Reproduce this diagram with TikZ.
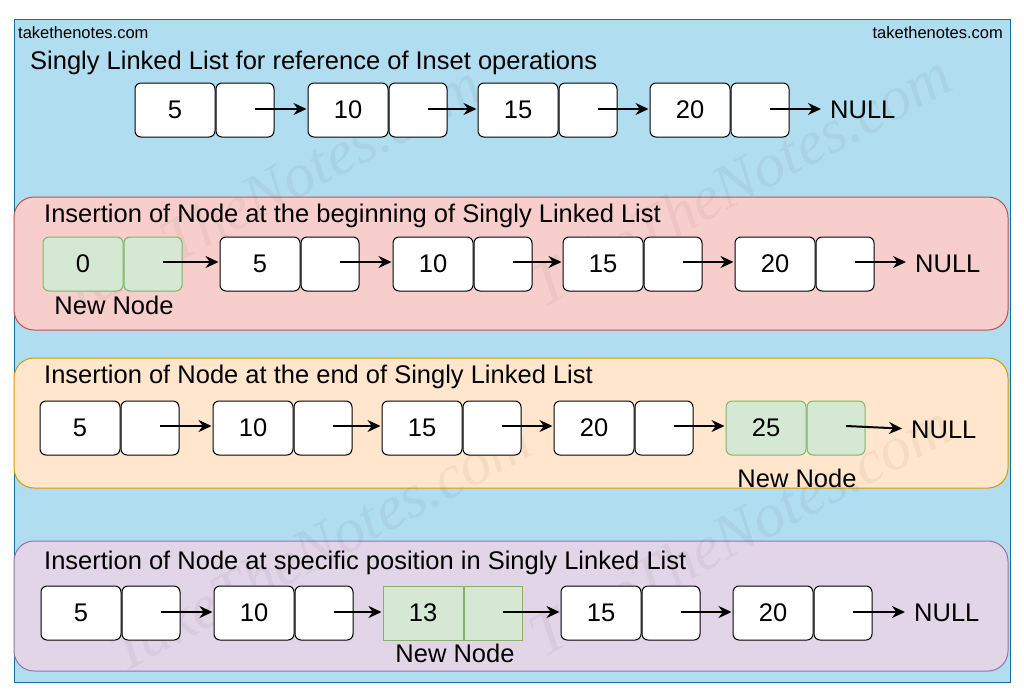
\documentclass[tikz,border=0pt]{standalone}
\usepackage{fontspec}
\setmainfont{Liberation Sans}
\newfontfamily\wmfont{Liberation Serif}
\usetikzlibrary{arrows.meta}
\definecolor{bgblue}{HTML}{B1DDF0}
\definecolor{bgblueb}{HTML}{10739E}
\definecolor{redf}{HTML}{F8CECC}\definecolor{redb}{HTML}{B85450}
\definecolor{orf}{HTML}{FFE6CC}\definecolor{orb}{HTML}{D79B00}
\definecolor{puf}{HTML}{E1D5E7}\definecolor{pub}{HTML}{9673A6}
\definecolor{grf}{HTML}{D5E8D4}\definecolor{grb}{HTML}{82B366}
\newcommand\LLnode[5]{%
  \node[val,#5] (#1v) at (#2+40,#3) {#4};
  \node[ptr,#5] (#1p) at (#2+110,#3) {};}
\begin{document}
\begin{tikzpicture}[x=1pt,y=-1pt,
  box/.style={draw=black,line width=1pt,rounded corners=6pt,fill=white,inner sep=0pt,minimum height=54pt,font=\fontsize{25.5}{28}\selectfont},
  val/.style={box,minimum width=80pt},
  ptr/.style={box,minimum width=58pt},
  new/.style={fill=grf,draw=grb},
  sq/.style={rounded corners=0pt},
  arr/.style={-{Stealth[length=13pt,width=12pt]},line width=2pt,shorten >=1pt},
  narr/.style={arr,shorten >=9pt},
  panel/.style={rounded corners=20pt,line width=1pt},
  ttl/.style={anchor=west,font=\fontsize{25.5}{28}\selectfont,inner sep=0pt},
  lbl/.style={font=\fontsize{25.5}{28}\selectfont,inner sep=0pt},
  wm/.style={font=\wmfont\itshape\fontsize{62}{70}\selectfont,text=black,opacity=0.045,rotate=28}]
\useasboundingbox (0,0) rectangle (1024,696);
\fill[white] (0,0) rectangle (1024,696);
\draw[fill=bgblue,draw=bgblueb,line width=1pt] (14,19) rectangle (1010,682);
\node[anchor=west,font=\fontsize{16.5}{18}\selectfont,inner sep=0pt] (wl) at (18,33) {takethenotes.com};
\node[anchor=east,font=\fontsize{16.5}{18}\selectfont,inner sep=0pt] (wr) at (1003,33) {takethenotes.com};
% panels
\draw[panel,fill=redf,draw=redb] (14,197) rectangle (1008,330);
\draw[panel,fill=orf,draw=orb] (14,358) rectangle (1008,488);
\draw[panel,fill=puf,draw=pub] (14,541) rectangle (1008,671);
% watermarks
\node[wm] (w1) at (270,190) {TakeTheNotes.com};
\node[wm] (w2) at (740,180) {TakeTheNotes.com};
\node[wm] (w3) at (320,545) {TakeTheNotes.com};
\node[wm] (w4) at (740,530) {TakeTheNotes.com};
% titles
\node[ttl] (t1) at (30,63) {Singly Linked List for reference of Inset operations};
\node[ttl] (t2) at (44,216) {Insertion of Node at the beginning of Singly Linked List};
\node[ttl] (t3) at (44,377) {Insertion of Node at the end of Singly Linked List};
\node[ttl] (t4) at (44,563) {Insertion of Node at specific position in Singly Linked List};
% row 1
\LLnode{a1}{135}{110}{5}{}
\LLnode{a2}{308}{110}{10}{}
\LLnode{a3}{478}{110}{15}{}
\LLnode{a4}{650}{110}{20}{}
\node[lbl,anchor=west] (an) at (830,110) {NULL};
\draw[arr] ([xshift=10pt,yshift=1pt]a1p.center) -- ([yshift=1pt]a2v.west);
\draw[arr] ([xshift=10pt,yshift=1pt]a2p.center) -- ([yshift=1pt]a3v.west);
\draw[arr] ([xshift=10pt,yshift=1pt]a3p.center) -- ([yshift=1pt]a4v.west);
\draw[narr] ([xshift=10pt,yshift=1pt]a4p.center) -- ([yshift=1pt]an.west);
% row 2
\LLnode{b0}{43}{264}{0}{new}
\LLnode{b1}{220}{264}{5}{}
\LLnode{b2}{393}{264}{10}{}
\LLnode{b3}{563}{264}{15}{}
\LLnode{b4}{735}{264}{20}{}
\node[lbl,anchor=west] (bn) at (915,264) {NULL};
\node[lbl] (bl) at (114,305) {New Node};
\draw[arr] ([xshift=10pt,yshift=2pt]b0p.center) -- ([yshift=2pt]b1v.west);
\draw[arr] ([xshift=10pt,yshift=2pt]b1p.center) -- ([yshift=2pt]b2v.west);
\draw[arr] ([xshift=10pt,yshift=2pt]b2p.center) -- ([yshift=2pt]b3v.west);
\draw[arr] ([xshift=10pt,yshift=2pt]b3p.center) -- ([yshift=2pt]b4v.west);
\draw[narr] ([xshift=10pt,yshift=2pt]b4p.center) -- ([yshift=2pt]bn.west);
% row 3
\LLnode{c1}{40}{428}{5}{}
\LLnode{c2}{213}{428}{10}{}
\LLnode{c3}{382}{428}{15}{}
\LLnode{c4}{554}{428}{20}{}
\LLnode{c5}{726}{428}{25}{new}
\node[lbl,anchor=west] (cn) at (911,430) {NULL};
\node[lbl] (cl) at (797,478) {New Node};
\draw[arr] ([xshift=10pt,yshift=2pt]c1p.center) -- ([yshift=2pt]c2v.west);
\draw[arr] ([xshift=10pt,yshift=2pt]c2p.center) -- ([yshift=2pt]c3v.west);
\draw[arr] ([xshift=10pt,yshift=2pt]c3p.center) -- ([yshift=2pt]c4v.west);
\draw[arr] ([xshift=10pt,yshift=2pt]c4p.center) -- ([yshift=2pt]c5v.west);
\draw[narr] ([xshift=10pt,yshift=2pt]c5p.center) -- ([yshift=1pt]cn.west);
% row 4
\LLnode{d1}{41}{613}{5}{}
\LLnode{d2}{214}{613}{10}{}
\LLnode{d3}{383}{613}{13}{new,sq}
\LLnode{d4}{561}{613}{15}{}
\LLnode{d5}{733}{613}{20}{}
\node[lbl,anchor=west] (dn) at (914,613) {NULL};
\node[lbl] (dl) at (455,653) {New Node};
\draw[arr] ([xshift=10pt,yshift=1pt]d1p.center) -- ([yshift=1pt]d2v.west);
\draw[arr] ([xshift=10pt,yshift=1pt]d2p.center) -- ([yshift=1pt]d3v.west);
\draw[arr] ([xshift=10pt,yshift=1pt]d3p.center) -- ([yshift=1pt]d4v.west);
\draw[arr] ([xshift=10pt,yshift=1pt]d4p.center) -- ([yshift=1pt]d5v.west);
\draw[narr] ([xshift=10pt,yshift=1pt]d5p.center) -- ([yshift=1pt]dn.west);
\end{tikzpicture}
\end{document}
